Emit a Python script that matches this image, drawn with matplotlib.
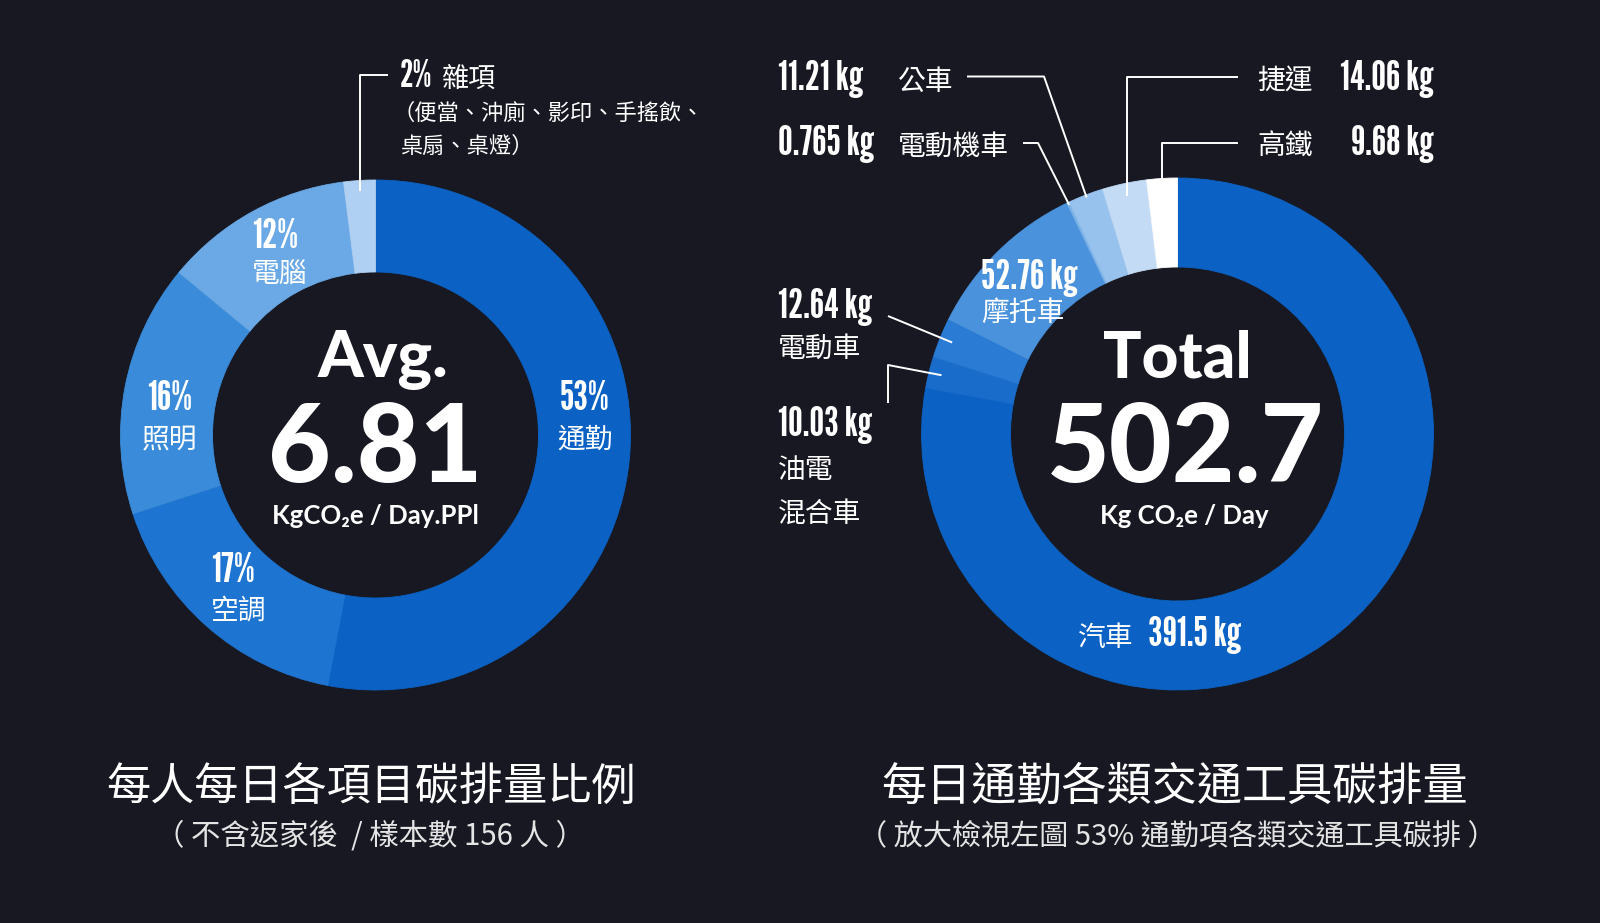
import numpy as np
import matplotlib.pyplot as plt

# 資料
left_labels = ['通勤', '空調', '照明', '電腦', '雜項']
left_pct = [53, 17, 16, 12, 2]
left_colors = ['#0b62c4', '#1d74d1', '#3a8bd9', '#6aa9e6', '#afd0f2']

right_labels = ['汽車', '油電混合車', '電動車', '摩托車', '電動機車', '公車', '捷運', '高鐵']
right_kg = [391.5, 10.03, 12.64, 52.76, 0.765, 11.21, 14.06, 9.68]
right_colors = ['#0b62c4', '#1a6ccb', '#2a7bd4', '#4a92dc', '#7bb2e8', '#97c2ee', '#c3dbf5', '#ffffff']

avg_value = '6.81'
total_value = '502.7'

BG = '#171822'
W, H = 1600, 923
NUM = ['League Gothic', 'DejaVu Sans']
CJK = ['Noto Sans CJK TC', 'DejaVu Sans']
LAT = ['Lato', 'DejaVu Sans']
NS = 30   # 數字標籤字級
CS = 20   # 中文標籤字級

fig = plt.figure(figsize=(16, 9.23), dpi=100, facecolor=BG)
ax = fig.add_axes([0, 0, 1, 1])
ax.set_facecolor(BG)


def Y(y):
    return H - y


def donut(values, colors, cx, cy, r, width):
    ax.pie(values, colors=colors, startangle=90, counterclock=False,
           center=(cx, Y(cy)), radius=r,
           wedgeprops=dict(width=width, linewidth=0.6, antialiased=True))
    for w, c in zip(ax.patches[-len(values):], colors):
        w.set_edgecolor(c)


def wedge_point(values, i, cx, cy, r):
    # 由扇形中間角度計算導線端點
    v = np.array(values, dtype=float)
    mid = (v[:i].sum() + v[i] / 2) / v.sum()
    ang = np.deg2rad(90 - 360 * mid)
    return cx + r * np.cos(ang), cy - r * np.sin(ang)


def txt(x, y, s, size, family, weight='normal', ha='left', color='white'):
    ax.text(x, Y(y), s, fontsize=size, family=family, fontweight=weight,
            ha=ha, va='baseline', color=color)


def leader(points):
    xs = [p[0] for p in points]
    ys = [Y(p[1]) for p in points]
    ax.plot(xs, ys, color='white', lw=1.4, solid_capstyle='butt')


# 左圖
lcx, lcy, lr = 375.5, 435, 255
donut(left_pct, left_colors, lcx, lcy, lr, lr - 163)

txt(lcx + 7, 377, 'Avg.', 47, LAT, 'black', 'center')
txt(lcx, 482, avg_value, 78, LAT, 'black', 'center')
txt(lcx, 524, 'KgCO₂e / Day.PPl', 18.5, LAT, 'bold', 'center')

txt(585, 410, f'{left_pct[0]}%', NS, NUM, 'normal', 'center')
txt(585, 448, left_labels[0], CS, CJK, 'normal', 'center')
txt(211, 582, f'{left_pct[1]}%', NS, NUM)
txt(211, 619, left_labels[1], CS, CJK)
txt(170, 410, f'{left_pct[2]}%', NS, NUM, 'normal', 'center')
txt(170, 448, left_labels[2], CS, CJK, 'normal', 'center')
txt(252, 248, f'{left_pct[3]}%', NS, NUM)
txt(252, 283, left_labels[3], CS, CJK)
txt(400, 87, f'{left_pct[4]}%', 27, NUM)
txt(441, 87, left_labels[4], 19.5, CJK)
txt(393, 120, '（便當、沖廁、影印、手搖飲、', 16, CJK)
txt(400, 153, '桌扇、桌燈）', 16, CJK)

wx, wy = wedge_point(left_pct, 4, lcx, lcy, lr * 0.96)
leader([(388, 74.5), (wx, 74.5), (wx, wy)])

txt(371, 800, '每人每日各項目碳排量比例', 31.8, CJK, 'medium', 'center')
txt(370, 844, '（ 不含返家後  / 樣本數 156 人 ）', 21.2, CJK, 'light', 'center', '#e4e4e4')

# 右圖
rcx, rcy, rr = 1177.5, 434, 256
donut(right_kg, right_colors, rcx, rcy, rr, rr - 167)

txt(rcx, 377, 'Total', 46, LAT, 'black', 'center')
txt(rcx + 8, 482, total_value, 78, LAT, 'black', 'center')
txt(rcx + 7, 524, 'Kg CO₂e / Day', 18.5, LAT, 'bold', 'center')


def kg(v):
    return f'{v:g} kg'


# 汽車
txt(1078, 646, right_labels[0], CS, CJK)
txt(1148, 646, kg(right_kg[0]), NS, NUM)
# 摩托車
txt(981, 289, kg(right_kg[3]), NS, NUM)
txt(981, 321, right_labels[3], CS, CJK)
# 電動車
txt(778, 318, kg(right_kg[2]), NS, NUM)
txt(778, 357, right_labels[2], CS, CJK)
p = wedge_point(right_kg, 2, rcx, rcy, rr * 0.95)
leader([(888, 316), p])
# 油電混合車
txt(778, 436, kg(right_kg[1]), NS, NUM)
txt(778, 478, right_labels[1][:2], CS, CJK)
txt(778, 522, right_labels[1][2:], CS, CJK)
p = wedge_point(right_kg, 1, rcx, rcy, rr * 0.95)
leader([(888, 403), (888, 365), p])
# 公車
txt(778, 90, kg(right_kg[5]), NS, NUM)
txt(898, 90, right_labels[5], CS, CJK)
p = wedge_point(right_kg, 5, rcx, rcy, rr * 0.99)
leader([(967, 76.5), (1044, 76.5), p])
# 電動機車
txt(778, 155, kg(right_kg[4]), NS, NUM)
txt(898, 155, right_labels[4], CS, CJK)
p = wedge_point(right_kg, 4, rcx, rcy, rr * 0.99)
leader([(1023, 143), (1038, 143), p])
# 捷運
txt(1257, 90, right_labels[6], CS, CJK)
txt(1434, 90, kg(right_kg[6]), NS, NUM, 'normal', 'right')
p = wedge_point(right_kg, 6, rcx, rcy, rr * 0.95)
leader([(1238, 76.5), (p[0], 76.5), p])
# 高鐵
txt(1257, 155, right_labels[7], CS, CJK)
txt(1434, 155, kg(right_kg[7]), NS, NUM, 'normal', 'right')
p = wedge_point(right_kg, 7, rcx, rcy, rr * 0.97)
leader([(1238, 143), (p[0], 143), p])

txt(1175, 800, '每日通勤各類交通工具碳排量', 32.5, CJK, 'medium', 'center')
txt(1177, 844, '（ 放大檢視左圖 53% 通勤項各類交通工具碳排 ）', 21, CJK, 'light', 'center', '#e4e4e4')

ax.set_xlim(0, W)
ax.set_ylim(0, H)
ax.set_aspect('equal')
ax.axis('off')

fig.savefig('out.png', dpi=100, facecolor=BG)
